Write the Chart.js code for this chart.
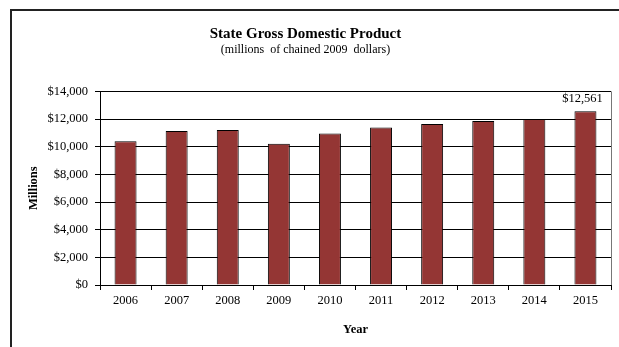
<!DOCTYPE html>
<html>
<head>
<meta charset="utf-8">
<script src="https://cdn.jsdelivr.net/npm/chart.js@4"></script>
<style>
    html, body { margin: 0; padding: 0; background: #fff; overflow: hidden; }
    #wrap { position: relative; width: 619px; height: 347px; }
    #frame { position: absolute; left: 10px; top: 9px; width: 700px; height: 400px;
             border-left: 2px solid #222; border-top: 2px solid #222; pointer-events: none; }
    canvas { position: absolute; left: 0; top: 0; }
</style>
</head>
<body>
<div id="wrap">
    <canvas id="gdp" width="619" height="347"></canvas>
    <div id="frame"></div>
</div>
<script>
// Data
const years = ['2006', '2007', '2008', '2009', '2010', '2011', '2012', '2013', '2014', '2015'];
const gdpMillions = [10390, 11130, 11200, 10220, 10950, 11390, 11640, 11860, 12000, 12561];
const labelledIndex = [9]; // only the last bar carries a value label

const serif = 'Liberation Serif, Times New Roman, serif';
const barColor = '#943634';

const money = v => '$' + Number(v).toLocaleString('en-US');

// Value label over the last bar + right edge of the plot frame
const extras = {
    id: 'extras',
    afterDatasetsDraw(chart) {
        const { ctx, chartArea } = chart;
        ctx.save();
        ctx.strokeStyle = '#777';
        ctx.lineWidth = 1;
        ctx.beginPath();
        ctx.moveTo(chartArea.right + 0.5, chartArea.top);
        ctx.lineTo(chartArea.right + 0.5, chartArea.bottom);
        ctx.stroke();

        const meta = chart.getDatasetMeta(0);
        ctx.fillStyle = '#000';
        ctx.font = '12.5px ' + serif;
        ctx.textAlign = 'center';
        ctx.textBaseline = 'bottom';
        labelledIndex.forEach(i => {
            const bar = meta.data[i];
            ctx.fillText(money(gdpMillions[i]), bar.x - 3, bar.y - 6);
        });
        ctx.restore();
    }
};

new Chart(document.getElementById('gdp'), {
    type: 'bar',
    data: {
        labels: years,
        datasets: [{
            data: gdpMillions,
            backgroundColor: barColor,
            borderColor: '#000',
            borderWidth: 1,
            barPercentage: 0.43,
            categoryPercentage: 1
        }]
    },
    options: {
        responsive: false,
        animation: false,
        layout: { padding: { left: 0, right: 8, top: 0, bottom: 0 } },
        plugins: {
            legend: { display: false },
            tooltip: { enabled: false },
            title: {
                display: true,
                text: 'State Gross Domestic Product',
                color: '#000',
                font: { family: serif, size: 15, weight: 'bold' },
                padding: { top: 25, bottom: 0 }
            },
            subtitle: {
                display: true,
                text: '(millions  of chained 2009  dollars)',
                color: '#000',
                font: { family: serif, size: 12 },
                padding: { top: 0, bottom: 34 }
            }
        },
        scales: {
            x: {
                afterFit(scale) { scale.height = 62; },
                grid: { drawOnChartArea: false, offset: true, color: '#000', tickLength: 5 },
                border: { color: '#000' },
                ticks: { color: '#000', font: { family: serif, size: 12.5 }, padding: 3, maxRotation: 0 },
                title: {
                    display: true, text: 'Year', color: '#000',
                    font: { family: serif, size: 12.5, weight: 'bold' },
                    padding: { top: 0, bottom: 9.5 }
                }
            },
            y: {
                min: 0,
                max: 14000,
                afterFit(scale) { scale.width = 100; },
                grid: { color: '#000', tickLength: 5 },
                border: { color: '#000' },
                ticks: {
                    stepSize: 2000,
                    color: '#000',
                    font: { family: serif, size: 12.5 },
                    padding: 7,
                    callback: v => money(v)
                },
                title: {
                    display: true, text: 'Millions', color: '#000',
                    font: { family: serif, size: 12.5, weight: 'bold' },
                    padding: { top: 26, bottom: 0 }
                }
            }
        }
    },
    plugins: [extras]
});
</script>
</body>
</html>
